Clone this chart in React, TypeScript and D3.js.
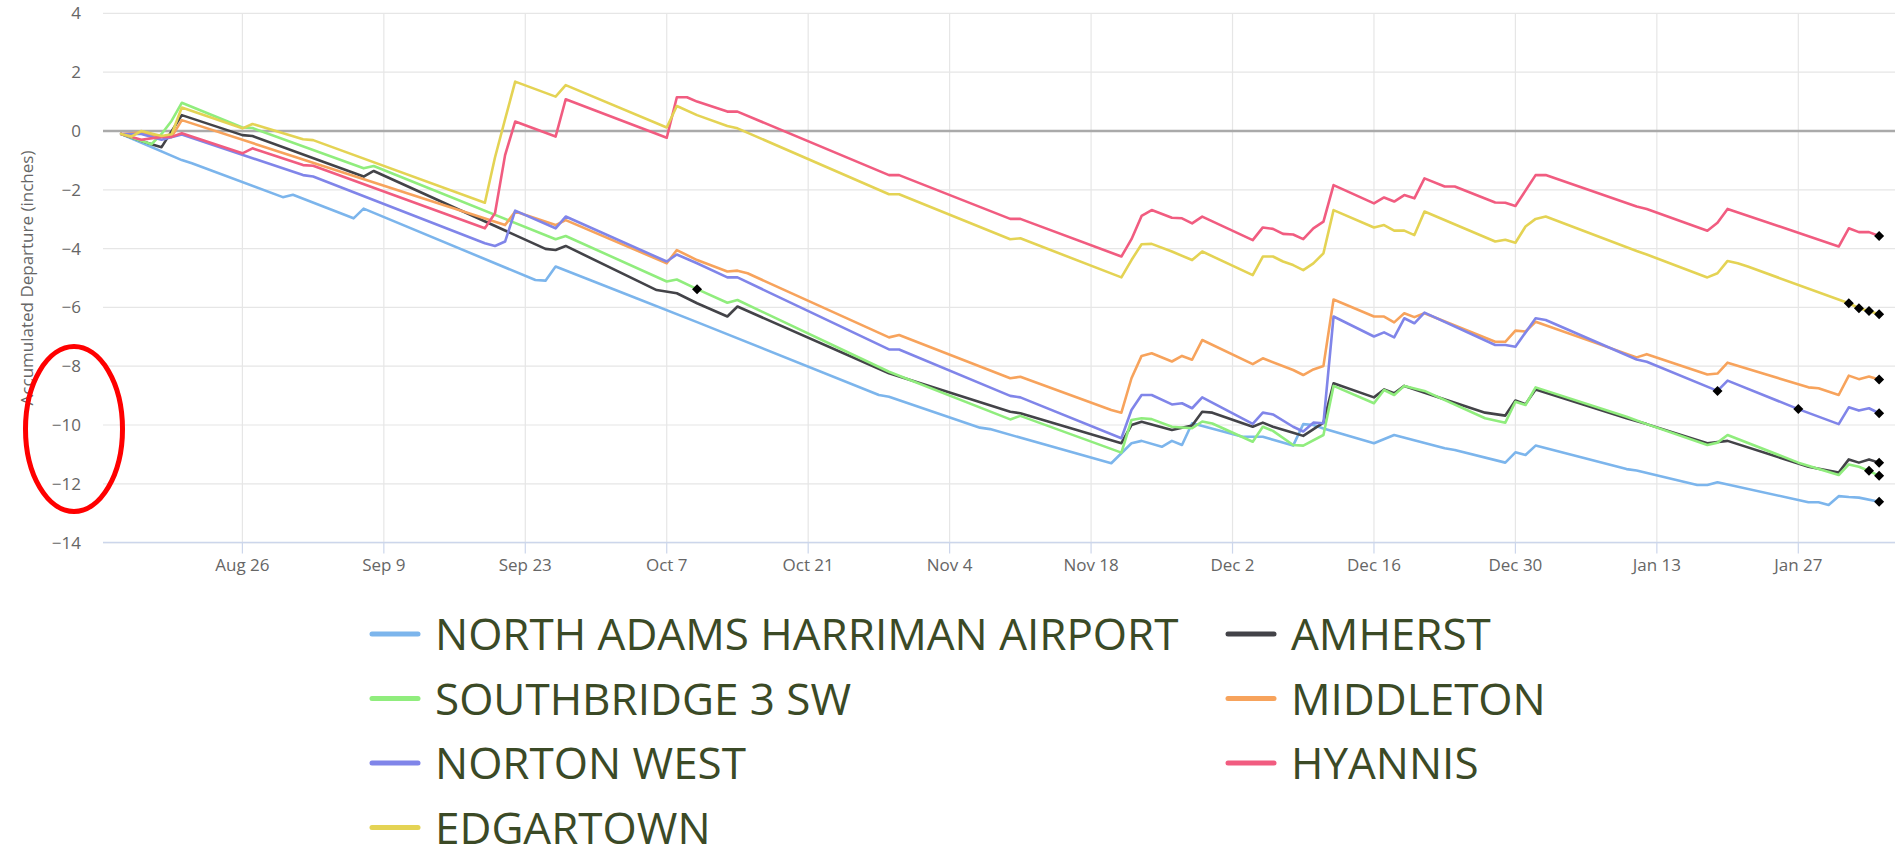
import React from "react";
import * as d3 from "d3";

const W = 1895;
const H = 848;

type Pt = [string, number];

const stationNames = [
  "NORTH ADAMS HARRIMAN AIRPORT",
  "AMHERST",
  "SOUTHBRIDGE 3 SW",
  "MIDDLETON",
  "NORTON WEST",
  "HYANNIS",
  "EDGARTOWN",
];

const stationColors = ["#7cb5ec", "#434348", "#90ed7d", "#f7a35c", "#8085e9", "#f15c80", "#e4d354"];

const northAdams: Pt[] = [
  ["2024-08-14", -0.1], ["2024-08-20", -0.99], ["2024-08-21", -1.1], ["2024-08-30", -2.25],
  ["2024-08-31", -2.17], ["2024-09-06", -2.97], ["2024-09-07", -2.64], ["2024-09-24", -5.07],
  ["2024-09-25", -5.09], ["2024-09-26", -4.61], ["2024-10-04", -5.69], ["2024-10-10", -6.5],
  ["2024-10-28", -8.98], ["2024-10-29", -9.04], ["2024-11-07", -10.09], ["2024-11-08", -10.14],
  ["2024-11-20", -11.3], ["2024-11-21", -10.96], ["2024-11-22", -10.62], ["2024-11-23", -10.54],
  ["2024-11-25", -10.74], ["2024-11-26", -10.54], ["2024-11-27", -10.68], ["2024-11-28", -9.94],
  ["2024-12-03", -10.4], ["2024-12-05", -10.4], ["2024-12-08", -10.7], ["2024-12-09", -9.97],
  ["2024-12-10", -10.0], ["2024-12-11", -10.12], ["2024-12-16", -10.62], ["2024-12-18", -10.34],
  ["2024-12-23", -10.79], ["2024-12-24", -10.85], ["2024-12-29", -11.28], ["2024-12-30", -10.93],
  ["2024-12-31", -11.02], ["2025-01-01", -10.7], ["2025-01-10", -11.5], ["2025-01-11", -11.55],
  ["2025-01-17", -12.04], ["2025-01-18", -12.04], ["2025-01-19", -11.95], ["2025-01-27", -12.55],
  ["2025-01-28", -12.63], ["2025-01-29", -12.63], ["2025-01-30", -12.72], ["2025-01-31", -12.42],
  ["2025-02-01", -12.45], ["2025-02-02", -12.47], ["2025-02-04", -12.61],
];

const amherst: Pt[] = [
  ["2024-08-14", -0.1], ["2024-08-17", -0.45], ["2024-08-18", -0.55], ["2024-08-20", 0.54],
  ["2024-08-26", -0.14], ["2024-08-27", -0.17], ["2024-09-07", -1.55], ["2024-09-08", -1.36],
  ["2024-09-25", -4.01], ["2024-09-26", -4.05], ["2024-09-27", -3.91], ["2024-10-06", -5.41],
  ["2024-10-08", -5.52], ["2024-10-10", -5.86], ["2024-10-13", -6.31], ["2024-10-14", -5.97],
  ["2024-10-29", -8.24], ["2024-11-10", -9.55], ["2024-11-11", -9.6], ["2024-11-21", -10.62],
  ["2024-11-22", -10.0], ["2024-11-23", -9.89], ["2024-11-26", -10.17], ["2024-11-28", -10.02],
  ["2024-11-29", -9.55], ["2024-11-30", -9.58], ["2024-12-04", -10.06], ["2024-12-05", -9.92],
  ["2024-12-06", -10.06], ["2024-12-08", -10.26], ["2024-12-09", -10.37], ["2024-12-11", -9.92],
  ["2024-12-12", -8.58], ["2024-12-16", -9.06], ["2024-12-17", -8.79], ["2024-12-18", -8.92],
  ["2024-12-19", -8.67], ["2024-12-27", -9.58], ["2024-12-29", -9.68], ["2024-12-30", -9.17],
  ["2024-12-31", -9.29], ["2025-01-01", -8.79], ["2025-01-10", -9.77], ["2025-01-12", -9.97],
  ["2025-01-18", -10.62], ["2025-01-20", -10.54], ["2025-01-28", -11.42], ["2025-01-31", -11.62],
  ["2025-02-01", -11.17], ["2025-02-02", -11.28], ["2025-02-03", -11.17], ["2025-02-04", -11.28],
];

const southbridge: Pt[] = [
  ["2024-08-14", -0.1], ["2024-08-17", -0.45], ["2024-08-18", -0.1], ["2024-08-19", 0.35],
  ["2024-08-20", 0.96], ["2024-08-26", 0.12], ["2024-08-27", 0.1], ["2024-09-07", -1.27],
  ["2024-09-08", -1.19], ["2024-09-26", -3.68], ["2024-09-27", -3.57], ["2024-10-07", -5.12],
  ["2024-10-08", -5.05], ["2024-10-10", -5.38], ["2024-10-13", -5.84], ["2024-10-14", -5.75],
  ["2024-10-29", -8.19], ["2024-11-10", -9.81], ["2024-11-11", -9.69], ["2024-11-21", -10.94],
  ["2024-11-22", -9.83], ["2024-11-23", -9.77], ["2024-11-24", -9.8], ["2024-11-26", -10.06],
  ["2024-11-28", -10.11], ["2024-11-29", -9.88], ["2024-11-30", -9.95], ["2024-12-04", -10.57],
  ["2024-12-05", -10.06], ["2024-12-06", -10.2], ["2024-12-08", -10.68], ["2024-12-09", -10.7],
  ["2024-12-11", -10.34], ["2024-12-12", -8.67], ["2024-12-16", -9.26], ["2024-12-17", -8.81],
  ["2024-12-18", -8.98], ["2024-12-19", -8.67], ["2024-12-21", -8.84], ["2024-12-27", -9.77],
  ["2024-12-29", -9.92], ["2024-12-30", -9.21], ["2024-12-31", -9.32], ["2025-01-01", -8.72],
  ["2025-01-10", -9.72], ["2025-01-12", -9.97], ["2025-01-18", -10.68], ["2025-01-19", -10.6],
  ["2025-01-20", -10.34], ["2025-01-27", -11.28], ["2025-01-31", -11.7], ["2025-02-01", -11.34],
  ["2025-02-02", -11.42], ["2025-02-03", -11.56], ["2025-02-04", -11.73],
];

const middleton: Pt[] = [
  ["2024-08-14", -0.1], ["2024-08-16", -0.05], ["2024-08-18", -0.2], ["2024-08-19", -0.2],
  ["2024-08-20", 0.37], ["2024-09-21", -3.2], ["2024-09-22", -2.74], ["2024-09-26", -3.2],
  ["2024-09-27", -3.03], ["2024-10-07", -4.5], ["2024-10-08", -4.05], ["2024-10-10", -4.39],
  ["2024-10-13", -4.78], ["2024-10-14", -4.75], ["2024-10-15", -4.84], ["2024-10-29", -7.02],
  ["2024-10-30", -6.94], ["2024-11-10", -8.41], ["2024-11-11", -8.36], ["2024-11-20", -9.49],
  ["2024-11-21", -9.58], ["2024-11-22", -8.41], ["2024-11-23", -7.65], ["2024-11-24", -7.56],
  ["2024-11-26", -7.84], ["2024-11-27", -7.65], ["2024-11-28", -7.78], ["2024-11-29", -7.11],
  ["2024-12-04", -7.93], ["2024-12-05", -7.73], ["2024-12-08", -8.13], ["2024-12-09", -8.3],
  ["2024-12-10", -8.11], ["2024-12-11", -7.99], ["2024-12-12", -5.73], ["2024-12-16", -6.31],
  ["2024-12-17", -6.31], ["2024-12-18", -6.51], ["2024-12-19", -6.2], ["2024-12-20", -6.33],
  ["2024-12-21", -6.2], ["2024-12-28", -7.17], ["2024-12-29", -7.17], ["2024-12-30", -6.79],
  ["2024-12-31", -6.82], ["2025-01-01", -6.49], ["2025-01-11", -7.7], ["2025-01-12", -7.59],
  ["2025-01-18", -8.28], ["2025-01-19", -8.25], ["2025-01-20", -7.88], ["2025-01-28", -8.72],
  ["2025-01-29", -8.75], ["2025-01-31", -8.98], ["2025-02-01", -8.32], ["2025-02-02", -8.44],
  ["2025-02-03", -8.35], ["2025-02-04", -8.45],
];

const nortonWest: Pt[] = [
  ["2024-08-14", -0.1], ["2024-08-16", -0.1], ["2024-08-18", -0.3], ["2024-08-20", -0.12],
  ["2024-09-01", -1.5], ["2024-09-02", -1.55], ["2024-09-19", -3.82], ["2024-09-20", -3.91],
  ["2024-09-21", -3.76], ["2024-09-22", -2.71], ["2024-09-26", -3.31], ["2024-09-27", -2.91],
  ["2024-10-07", -4.44], ["2024-10-08", -4.2], ["2024-10-10", -4.5], ["2024-10-13", -4.98],
  ["2024-10-14", -4.98], ["2024-10-29", -7.43], ["2024-10-30", -7.43], ["2024-11-10", -9.01],
  ["2024-11-11", -9.06], ["2024-11-21", -10.45], ["2024-11-22", -9.49], ["2024-11-23", -8.98],
  ["2024-11-24", -8.98], ["2024-11-26", -9.3], ["2024-11-27", -9.26], ["2024-11-28", -9.43],
  ["2024-11-29", -9.06], ["2024-12-04", -9.96], ["2024-12-05", -9.58], ["2024-12-06", -9.64],
  ["2024-12-08", -10.06], ["2024-12-09", -10.22], ["2024-12-10", -9.92], ["2024-12-11", -9.94],
  ["2024-12-12", -6.31], ["2024-12-16", -6.99], ["2024-12-17", -6.85], ["2024-12-18", -7.02],
  ["2024-12-19", -6.37], ["2024-12-20", -6.54], ["2024-12-21", -6.18], ["2024-12-28", -7.28],
  ["2024-12-29", -7.28], ["2024-12-30", -7.34], ["2025-01-01", -6.37], ["2025-01-02", -6.43],
  ["2025-01-11", -7.77], ["2025-01-12", -7.85], ["2025-01-19", -8.84], ["2025-01-20", -8.49],
  ["2025-01-27", -9.46], ["2025-01-31", -9.97], ["2025-02-01", -9.4], ["2025-02-02", -9.51],
  ["2025-02-03", -9.43], ["2025-02-04", -9.6],
];

const hyannis: Pt[] = [
  ["2024-08-14", -0.1], ["2024-08-16", -0.3], ["2024-08-18", -0.2], ["2024-08-19", -0.2],
  ["2024-08-20", -0.08], ["2024-08-26", -0.76], ["2024-08-27", -0.59], ["2024-09-01", -1.16],
  ["2024-09-02", -1.18], ["2024-09-19", -3.31], ["2024-09-20", -2.8], ["2024-09-21", -0.82],
  ["2024-09-22", 0.32], ["2024-09-26", -0.19], ["2024-09-27", 1.08], ["2024-10-07", -0.23],
  ["2024-10-08", 1.15], ["2024-10-09", 1.15], ["2024-10-10", 1.0], ["2024-10-13", 0.66],
  ["2024-10-14", 0.66], ["2024-10-29", -1.5], ["2024-10-30", -1.5], ["2024-11-10", -2.99],
  ["2024-11-11", -2.99], ["2024-11-21", -4.27], ["2024-11-22", -3.68], ["2024-11-23", -2.89],
  ["2024-11-24", -2.69], ["2024-11-26", -2.95], ["2024-11-27", -2.97], ["2024-11-28", -3.14],
  ["2024-11-29", -2.91], ["2024-12-04", -3.71], ["2024-12-05", -3.28], ["2024-12-06", -3.33],
  ["2024-12-07", -3.5], ["2024-12-08", -3.52], ["2024-12-09", -3.68], ["2024-12-10", -3.31],
  ["2024-12-11", -3.08], ["2024-12-12", -1.84], ["2024-12-16", -2.46], ["2024-12-17", -2.26],
  ["2024-12-18", -2.4], ["2024-12-19", -2.18], ["2024-12-20", -2.29], ["2024-12-21", -1.61],
  ["2024-12-23", -1.89], ["2024-12-24", -1.89], ["2024-12-28", -2.43], ["2024-12-29", -2.44],
  ["2024-12-30", -2.55], ["2025-01-01", -1.5], ["2025-01-02", -1.5], ["2025-01-11", -2.57],
  ["2025-01-12", -2.65], ["2025-01-18", -3.39], ["2025-01-19", -3.12], ["2025-01-20", -2.65],
  ["2025-01-31", -3.93], ["2025-02-01", -3.31], ["2025-02-02", -3.44], ["2025-02-03", -3.44],
  ["2025-02-04", -3.57],
];

const edgartown: Pt[] = [
  ["2024-08-14", -0.1], ["2024-08-15", -0.19], ["2024-08-16", 0.0], ["2024-08-18", -0.17],
  ["2024-08-19", -0.11], ["2024-08-20", 0.8], ["2024-08-26", 0.09], ["2024-08-27", 0.24],
  ["2024-09-01", -0.28], ["2024-09-02", -0.31], ["2024-09-19", -2.44], ["2024-09-20", -0.9],
  ["2024-09-21", 0.4], ["2024-09-22", 1.68], ["2024-09-26", 1.17], ["2024-09-27", 1.56],
  ["2024-10-07", 0.12], ["2024-10-08", 0.85], ["2024-10-10", 0.54], ["2024-10-13", 0.17],
  ["2024-10-14", 0.09], ["2024-10-29", -2.15], ["2024-10-30", -2.15], ["2024-11-10", -3.68],
  ["2024-11-11", -3.65], ["2024-11-21", -4.98], ["2024-11-22", -4.39], ["2024-11-23", -3.85],
  ["2024-11-24", -3.84], ["2024-11-26", -4.1], ["2024-11-28", -4.39], ["2024-11-29", -4.1],
  ["2024-12-04", -4.9], ["2024-12-05", -4.27], ["2024-12-06", -4.27], ["2024-12-07", -4.44],
  ["2024-12-08", -4.56], ["2024-12-09", -4.73], ["2024-12-10", -4.5], ["2024-12-11", -4.16],
  ["2024-12-12", -2.69], ["2024-12-16", -3.28], ["2024-12-17", -3.2], ["2024-12-18", -3.39],
  ["2024-12-19", -3.39], ["2024-12-20", -3.54], ["2024-12-21", -2.74], ["2024-12-28", -3.76],
  ["2024-12-29", -3.7], ["2024-12-30", -3.8], ["2024-12-31", -3.25], ["2025-01-01", -2.99],
  ["2025-01-02", -2.91], ["2025-01-11", -4.08], ["2025-01-12", -4.2], ["2025-01-18", -4.98],
  ["2025-01-19", -4.84], ["2025-01-20", -4.42], ["2025-01-21", -4.5], ["2025-01-22", -4.61],
  ["2025-02-01", -5.86], ["2025-02-02", -6.03], ["2025-02-03", -6.12], ["2025-02-04", -6.23],
];

const stationSeries: Pt[][] = [northAdams, amherst, southbridge, middleton, nortonWest, hyannis, edgartown];

// points drawn with a black diamond marker: [station index, date]
const flaggedPoints: [number, string][] = [
  [2, "2024-10-10"],
  [4, "2025-01-19"], [4, "2025-01-27"], [4, "2025-02-04"],
  [6, "2025-02-01"], [6, "2025-02-02"], [6, "2025-02-03"], [6, "2025-02-04"],
  [5, "2025-02-04"], [3, "2025-02-04"], [1, "2025-02-04"],
  [2, "2025-02-03"], [2, "2025-02-04"], [0, "2025-02-04"],
];

const xTickDates = [
  "2024-08-26", "2024-09-09", "2024-09-23", "2024-10-07", "2024-10-21", "2024-11-04",
  "2024-11-18", "2024-12-02", "2024-12-16", "2024-12-30", "2025-01-13", "2025-01-27",
];
const yTickValues = [-14, -12, -10, -8, -6, -4, -2, 0, 2, 4];
const yAxisTitle = "Accumulated Departure (inches)";

const parse = (s: string) => {
  const [y, m, d] = s.split("-").map(Number);
  return new Date(Date.UTC(y, m - 1, d));
};

const PLOT_LEFT = 103;
const PLOT_RIGHT = 1895;

const x = d3
  .scaleUtc()
  .domain([parse("2024-08-26"), parse("2025-01-27")])
  .range([242.4, 1798.3]);
const y = d3.scaleLinear().domain([-14, 4]).range([542.6, 13.4]);

const fmtX = d3.utcFormat("%b %-d");
const fmtY = d3.format("d");

const line = d3
  .line<Pt>()
  .x((p) => x(parse(p[0])))
  .y((p) => y(p[1]));

const FONT = "'Open Sans', 'DejaVu Sans', sans-serif";

export default function App() {
  const yBottom = y(-14);
  const yTop = y(4);
  const legendRows = [650, 714.5, 779, 843.5];
  const legendCols = [{ sym: 372, text: 435 }, { sym: 1228, text: 1291 }];

  return (
    <svg
      width={W}
      height={H}
      style={{ position: "absolute", left: 0, top: 0, background: "#fff" }}
      fontFamily={FONT}
    >
      <rect x={0} y={0} width={W} height={H} fill="#ffffff" />
      {/* horizontal grid */}
      {yTickValues.map((v) => (
        <line key={"hg" + v} x1={PLOT_LEFT} x2={PLOT_RIGHT} y1={y(v)} y2={y(v)} stroke="#e6e6e6" strokeWidth={1.2} />
      ))}
      {/* vertical grid */}
      {xTickDates.map((t) => (
        <line key={"vg" + t} x1={x(parse(t))} x2={x(parse(t))} y1={yTop} y2={yBottom} stroke="#e6e6e6" strokeWidth={1.2} />
      ))}
      {/* zero line */}
      <line x1={PLOT_LEFT} x2={PLOT_RIGHT} y1={y(0)} y2={y(0)} stroke="#aaaaaa" strokeWidth={2.6} />
      {/* x axis line and ticks */}
      <line x1={PLOT_LEFT} x2={PLOT_RIGHT} y1={yBottom} y2={yBottom} stroke="#ccd6eb" strokeWidth={1.5} />
      {xTickDates.map((t) => (
        <line key={"xt" + t} x1={x(parse(t))} x2={x(parse(t))} y1={yBottom} y2={yBottom + 11} stroke="#ccd6eb" strokeWidth={1.2} />
      ))}
      {/* x labels */}
      {xTickDates.map((t) => (
        <text key={"xl" + t} x={x(parse(t))} y={571} textAnchor="middle" fontSize={17} fill="#666666">
          {fmtX(parse(t))}
        </text>
      ))}
      {/* y labels */}
      {yTickValues.map((v) => (
        <text key={"yl" + v} x={81} y={y(v) + 6} textAnchor="end" fontSize={17} fill="#666666">
          {fmtY(v)}
        </text>
      ))}
      {/* y title */}
      <text
        transform={`translate(33,${(yTop + yBottom) / 2}) rotate(-90)`}
        textAnchor="middle"
        fontSize={17}
        fill="#666666"
      >
        {yAxisTitle}
      </text>
      {/* series */}
      {stationSeries.map((s, i) => (
        <path
          key={"s" + i}
          d={line(s) || ""}
          fill="none"
          stroke={stationColors[i]}
          strokeWidth={2.6}
          strokeLinejoin="round"
          strokeLinecap="round"
        />
      ))}
      {/* flagged markers */}
      {flaggedPoints.map(([si, date], k) => {
        const p = stationSeries[si].find((q) => q[0] === date);
        if (!p) return null;
        const cx = x(parse(p[0]));
        const cy = y(p[1]);
        const r = 5;
        return (
          <path
            key={"m" + k}
            d={`M${cx},${cy - r}L${cx + r},${cy}L${cx},${cy + r}L${cx - r},${cy}Z`}
            fill="#000000"
          />
        );
      })}
      {/* legend */}
      {stationNames.map((name, i) => {
        const col = legendCols[i % 2];
        const rowY = legendRows[Math.floor(i / 2)];
        return (
          <g key={"lg" + i}>
            <line
              x1={col.sym}
              x2={col.sym + 46}
              y1={rowY - 16}
              y2={rowY - 16}
              stroke={stationColors[i]}
              strokeWidth={5}
              strokeLinecap="round"
            />
            <text x={col.text} y={rowY} fontSize={44} fill="#3b4a26">
              {name}
            </text>
          </g>
        );
      })}
      {/* annotation ellipse */}
      <ellipse cx={74} cy={429} rx={48.5} ry={82.5} fill="none" stroke="#ff0000" strokeWidth={5} />
    </svg>
  );
}
